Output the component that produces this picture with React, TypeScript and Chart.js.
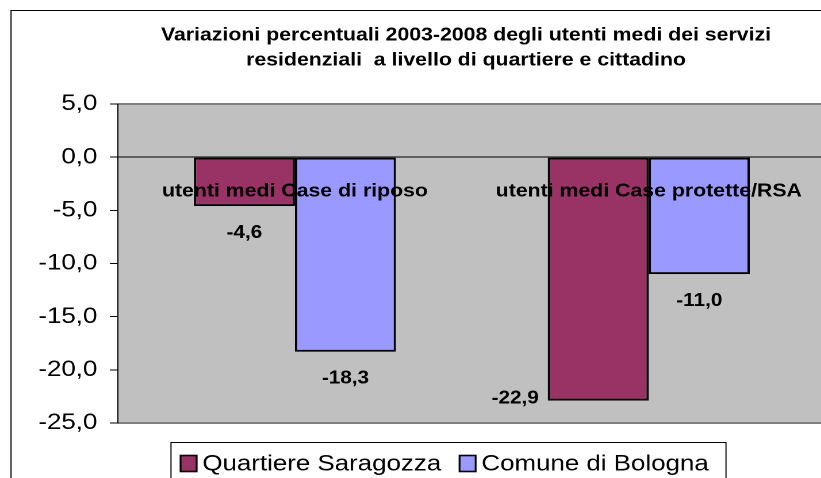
import React, { useEffect, useRef } from 'react';
import { Chart, registerables } from 'chart.js';

Chart.register(...registerables);

// ---- data ----
const titleLines = [
  'Variazioni percentuali 2003-2008 degli utenti medi dei servizi',
  'residenziali  a livello di quartiere e cittadino',
];
const categories = ['utenti medi Case di riposo', 'utenti medi Case protette/RSA'];
const seriesNames = ['Quartiere Saragozza', 'Comune di Bologna'];
const quartiereSaragozza = [-4.6, -22.9];
const comuneBologna = [-18.3, -11.0];
const yTicks = { min: -25, max: 5, step: 5 };

// ---- styling ----
const FONT = "'Liberation Sans', Arial, sans-serif";
const SX = 1.15; // horizontal stretch of the reference
const CW = 722;
const CH = 478;
const colors = ['#993366', '#9999FF'];
const fmt = (v: number) => v.toFixed(1).replace('.', ',');

const decorPlugin = {
  id: 'decor',
  beforeDraw(chart: any) {
    const { ctx, chartArea: a } = chart;
    ctx.save();
    ctx.fillStyle = '#ffffff';
    ctx.fillRect(0, 0, chart.width, chart.height);
    // outer frame
    ctx.strokeStyle = '#000000';
    ctx.lineWidth = 1;
    ctx.strokeRect(9.6, 10.5, chart.width + 20, chart.height + 20);
    // plot background
    ctx.fillStyle = '#C0C0C0';
    ctx.fillRect(a.left, a.top, a.right - a.left, a.bottom - a.top);
    ctx.strokeStyle = '#808080';
    ctx.lineWidth = 2;
    ctx.beginPath();
    ctx.moveTo(a.left, a.top);
    ctx.lineTo(a.right, a.top);
    ctx.moveTo(a.left, a.bottom);
    ctx.lineTo(a.right, a.bottom);
    ctx.moveTo(a.right, a.top);
    ctx.lineTo(a.right, a.bottom);
    ctx.stroke();
    ctx.restore();
  },
  afterDraw(chart: any) {
    const { ctx, chartArea: a } = chart;
    ctx.save();
    // title
    ctx.fillStyle = '#000';
    ctx.font = `bold 18.5px ${FONT}`;
    ctx.textAlign = 'center';
    ctx.textBaseline = 'alphabetic';
    const tx = 466 / SX;
    ctx.fillText(titleLines[0], tx, 40.5);
    ctx.fillText(titleLines[1], tx, 65.5);

    // data labels
    ctx.font = `bold 18px ${FONT}`;
    chart.data.datasets.forEach((ds: any, di: number) => {
      const meta = chart.getDatasetMeta(di);
      meta.data.forEach((el: any, i: number) => {
        const v = ds.data[i];
        const txt = fmt(v);
        let x = el.x;
        let y = el.y + 27;
        ctx.textBaseline = 'middle';
        if (y + 10 > a.bottom) {
          ctx.textAlign = 'right';
          x = el.x - el.width / 2 - 7.8;
          y = el.y - 2;
        } else {
          ctx.textAlign = 'center';
        }
        ctx.fillText(txt, x, y);
      });
    });

    // legend
    const top = 442.5;
    const lx = 171 / SX;
    const rx = 726 / SX;
    ctx.strokeStyle = '#000';
    ctx.lineWidth = 1;
    ctx.beginPath();
    ctx.moveTo(lx, chart.height + 5);
    ctx.lineTo(lx, top);
    ctx.lineTo(rx, top);
    ctx.lineTo(rx, chart.height + 5);
    ctx.stroke();
    ctx.font = `22.5px ${FONT}`;
    ctx.textAlign = 'left';
    ctx.textBaseline = 'middle';
    let x = 157;
    const cy = 463.5;
    chart.data.datasets.forEach((ds: any) => {
      ctx.fillStyle = ds.backgroundColor;
      ctx.fillRect(x, cy - 8, 14, 16);
      ctx.strokeStyle = '#000';
      ctx.lineWidth = 1.6;
      ctx.strokeRect(x, cy - 8, 14, 16);
      ctx.fillStyle = '#000';
      const tx2 = x + 14 + 5;
      ctx.fillText(ds.label, tx2, cy + 1);
      x = tx2 + ctx.measureText(ds.label).width + 16;
    });
    ctx.restore();
  },
};

export default function App() {
  const ref = useRef<HTMLCanvasElement | null>(null);

  useEffect(() => {
    if (!ref.current) return;
    const chart = new Chart(ref.current, {
      type: 'bar',
      data: {
        labels: categories,
        datasets: [
          {
            label: seriesNames[0],
            data: quartiereSaragozza,
            backgroundColor: colors[0],
            borderColor: '#000000',
            borderWidth: 2,
            borderSkipped: false,
            categoryPercentage: 0.571,
            barPercentage: 1,
          },
          {
            label: seriesNames[1],
            data: comuneBologna,
            backgroundColor: colors[1],
            borderColor: '#000000',
            borderWidth: 2,
            borderSkipped: false,
            categoryPercentage: 0.571,
            barPercentage: 1,
          },
        ],
      },
      options: {
        responsive: false,
        animation: false,
        devicePixelRatio: 2,
        layout: { padding: { left: 0, right: CW - 718, top: 104, bottom: CH - 423 } },
        plugins: {
          legend: { display: false },
          title: { display: false },
          tooltip: { enabled: false },
        },
        scales: {
          x: {
            position: { y: 0 } as any,
            grid: { display: false, drawTicks: false },
            border: { display: true, color: '#000000', width: 1, z: 1 } as any,
            ticks: {
              z: 1,
              color: '#000',
              font: { family: FONT, size: 18.5, weight: 'bold' },
              padding: 23,
              maxRotation: 0,
              autoSkip: false,
            },
          },
          y: {
            min: yTicks.min,
            max: yTicks.max,
            afterFit: (s: any) => {
              s.width = 118 / SX;
            },
            grid: {
              drawOnChartArea: false,
              drawTicks: true,
              tickLength: 7,
              color: '#000000',
            },
            border: { display: true, color: '#000000', width: 1 },
            ticks: {
              stepSize: yTicks.step,
              color: '#000',
              font: { family: FONT, size: 22.5 },
              padding: 11,
              callback: (v: any) => fmt(Number(v)),
            },
          },
        },
      },
      plugins: [decorPlugin],
    });
    return () => chart.destroy();
  }, []);

  return (
    <div
      style={{
        position: 'absolute',
        left: 0,
        top: 0,
        width: 821,
        height: 478,
        overflow: 'hidden',
        background: '#ffffff',
      }}
    >
      <div style={{ width: CW, height: CH, transform: `scaleX(${SX})`, transformOrigin: '0 0' }}>
        <canvas ref={ref} width={CW} height={CH} style={{ display: 'block' }} />
      </div>
    </div>
  );
}
